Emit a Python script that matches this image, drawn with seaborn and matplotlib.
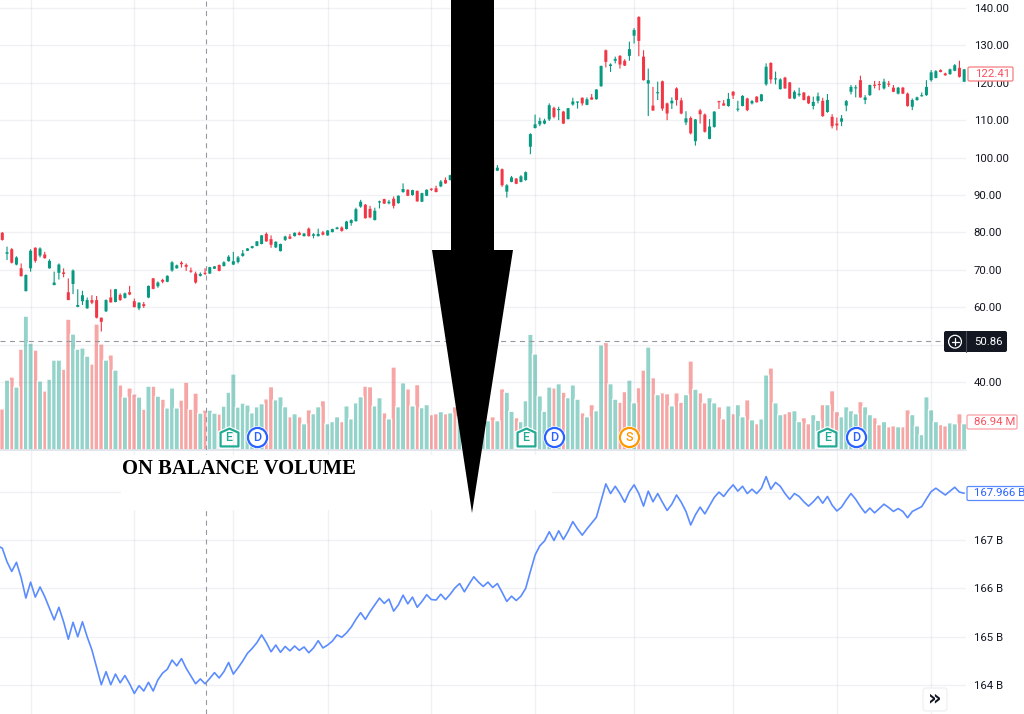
import matplotlib
matplotlib.use("Agg")
import matplotlib.pyplot as plt
from matplotlib.patches import Circle, FancyBboxPatch, Polygon, Rectangle
from matplotlib.path import Path as MplPath
import numpy as np
import pandas as pd
import seaborn as sns

# candles (the bars behind the arrow are guesses)
candle_open = [
    79.9, 74.3, 75.5, 71.4, 70.4, 64.3, 70.4, 75.9, 73.8, 74.1,
    70.4, 65.9, 69.2, 69.3, 64.0, 66.2, 60.1, 61.6, 59.7, 61.9,
    61.9, 57.2, 58.9, 62.6, 61.4, 63.3, 62.5, 64.0, 61.6, 59.7,
    60.8, 62.6, 67.7, 65.6, 67.3, 66.8, 69.8, 70.4, 71.9, 71.3,
    69.7, 69.0, 68.4, 69.2, 69.0, 70.3, 71.3, 71.0, 72.3, 71.4,
    72.1, 73.7, 75.1,
    75.8, 76.4, 76.9, 79.6, 78.2, 76.0, 75.0, 78.0, 78.9, 79.0,
    79.9, 79.0, 81.0, 79.1, 79.0, 80.0, 79.2, 80.1, 80.9, 81.3,
    80.9, 82.5, 83.0, 86.9, 87.4, 86.3, 83.3, 88.0, 88.9, 87.8,
    89.0, 87.8, 90.8, 91.4, 90.0, 91.1, 88.2, 89.8, 91.6, 91.8,
    92.3, 94.0, 94.0,
    96.2, 95.3, 96.5, 97.6, 97.0, 98.4, 97.7, 98.6, 99.4, 96.5,
    96.9, 90.9, 93.5, 94.4, 93.5, 94.0, 102.9, 107.9, 108.9, 109.1,
    110.2, 113.3, 112.7, 112.3, 110.3, 114.2, 114.7, 116.0, 114.1, 116.1,
    115.6, 119.1, 128.7, 124.5, 125.9, 127.2, 125.9, 127.2, 132.6, 137.6,
    127.0, 119.8, 113.9, 117.2, 120.4, 114.5, 114.5, 118.5, 115.3, 109.4,
    110.6, 104.4, 112.6, 111.5, 105.0, 108.2, 115.0, 114.5, 113.8, 117.6,
    112.8, 113.8, 115.8, 114.5, 116.3, 115.1, 119.6, 125.3, 120.9,
    118.3, 121.4, 120.1, 115.8, 116.7, 117.4, 116.4, 113.8, 115.2, 115.2,
    112.2, 110.9, 109.1, 109.6, 113.9, 117.6, 118.5, 120.7, 115.4, 116.7,
    119.5, 119.6, 118.5, 119.8, 118.7, 117.1, 118.7, 117.1, 113.6, 115.4,
    116.4, 116.7, 120.7, 121.3, 123.4, 122.5, 122.3, 123.2, 124.0, 120.3,
]
candle_close = [
    78.0, 74.7, 71.9, 73.3, 68.3, 68.6, 75.1, 72.4, 75.7, 73.1,
    72.4, 66.6, 71.4, 68.9, 61.9, 69.8, 60.6, 63.2, 61.9, 61.2,
    57.2, 56.1, 61.9, 61.3, 64.8, 61.9, 63.7, 63.4, 60.0, 61.2,
    60.3, 65.7, 64.9, 66.6, 66.8, 68.4, 72.0, 71.2, 71.5, 70.8,
    69.5, 66.6, 68.9, 68.9, 70.7, 70.9, 69.7, 72.0, 73.5, 72.3,
    73.3, 74.4, 75.7,
    76.3, 77.6, 79.2, 77.6, 76.7, 77.5, 76.9, 78.9, 78.3, 79.9,
    79.3, 79.7, 79.0, 79.5, 79.6, 79.4, 80.5, 80.9, 81.3, 80.4,
    82.9, 83.3, 86.2, 88.2, 83.8, 84.0, 85.8, 88.2, 87.7, 88.2,
    87.1, 89.8, 91.6, 89.8, 91.3, 88.3, 90.5, 91.4, 91.4, 90.8,
    93.6, 93.1, 95.3,
    95.2, 96.6, 97.4, 96.9, 98.2, 97.6, 99.0, 99.4, 96.3, 97.3,
    92.6, 92.6, 94.7, 93.0, 95.0, 96.1, 106.3, 108.9, 109.8, 109.9,
    114.0, 110.9, 113.0, 109.1, 113.2, 115.0, 114.9, 114.5, 115.6, 115.5,
    118.2, 124.5, 125.6, 124.9, 126.4, 124.9, 124.6, 129.0, 134.1, 131.2,
    120.7, 120.7, 112.6, 117.5, 113.1, 111.8, 115.2, 115.4, 111.8, 110.5,
    106.5, 110.2, 111.6, 106.9, 108.3, 112.3, 114.8, 113.9, 115.7, 116.6,
    113.1, 116.5, 112.7, 115.1, 114.8, 116.9, 124.3, 120.9, 121.2,
    120.9, 118.5, 115.8, 117.6, 117.1, 115.4, 114.5, 114.9, 116.4, 111.1,
    115.4, 108.4, 108.6, 110.5, 115.1, 118.9, 118.8, 116.1, 116.1, 119.4,
    119.2, 119.4, 120.3, 119.5, 117.6, 118.7, 117.1, 113.8, 115.4, 116.1,
    116.7, 118.9, 122.8, 123.1, 122.9, 122.0, 123.6, 124.7, 121.6, 123.6,
]
candle_high = [
    80.1, 76.2, 75.8, 73.6, 71.7, 68.8, 75.5, 76.0, 76.0, 74.8,
    72.8, 69.5, 71.7, 70.4, 67.7, 70.1, 64.8, 64.4, 62.6, 63.2,
    63.0, 57.2, 62.1, 64.8, 64.9, 63.7, 63.9, 65.7, 62.3, 61.3,
    61.4, 65.8, 67.8, 66.9, 67.6, 68.5, 72.3, 71.4, 72.3, 71.7,
    70.6, 69.5, 69.3, 70.4, 70.8, 71.0, 71.4, 72.3, 73.9, 74.8,
    73.7, 75.3, 75.8,
    76.4, 77.7, 79.3, 80.0, 79.2, 77.6, 77.0, 79.1, 79.6, 80.0,
    80.2, 79.8, 81.3, 79.8, 81.0, 80.4, 80.6, 81.0, 81.5, 81.6,
    83.1, 83.5, 86.6, 88.7, 87.6, 87.1, 86.6, 88.5, 89.0, 88.7,
    89.6, 89.9, 93.1, 91.5, 91.4, 91.2, 90.6, 91.5, 91.8, 92.5,
    94.0, 94.7, 95.4,
    96.5, 96.8, 97.6, 97.8, 98.4, 98.6, 99.2, 99.6, 99.6, 98.0,
    97.1, 92.9, 95.1, 94.5, 95.3, 96.3, 106.5, 111.5, 110.7, 110.4,
    114.5, 113.6, 113.6, 112.5, 113.3, 116.0, 115.0, 116.1, 116.1, 117.0,
    118.3, 124.6, 128.9, 125.2, 127.0, 127.4, 126.3, 131.0, 134.6, 137.8,
    128.7, 123.8, 118.9, 120.3, 120.6, 114.7, 116.1, 118.8, 116.0, 112.4,
    111.0, 110.3, 113.0, 111.8, 110.3, 112.4, 115.2, 115.4, 117.3, 117.8,
    115.2, 116.7, 116.0, 115.4, 116.4, 117.0, 125.2, 125.5, 123.0,
    121.2, 121.6, 120.2, 118.0, 118.7, 117.5, 116.6, 116.3, 117.4, 116.0,
    117.0, 111.6, 110.7, 111.4, 115.4, 119.4, 119.4, 121.9, 116.7, 119.5,
    120.5, 120.5, 121.1, 120.5, 119.4, 118.9, 118.9, 117.4, 115.8, 116.3,
    117.4, 120.7, 123.4, 123.4, 123.6, 122.7, 123.8, 125.0, 125.9, 123.7,
]
candle_low = [
    77.8, 72.6, 71.7, 71.2, 68.2, 64.2, 69.5, 71.9, 73.3, 73.0,
    70.3, 65.9, 67.4, 68.0, 61.9, 63.5, 60.0, 60.6, 59.6, 60.8,
    57.0, 53.5, 58.7, 61.2, 61.3, 61.7, 62.3, 63.2, 60.0, 59.2,
    59.8, 62.4, 64.8, 65.2, 66.4, 66.7, 69.5, 70.3, 70.6, 69.7,
    69.2, 66.3, 68.2, 68.6, 68.9, 70.2, 69.6, 70.9, 72.2, 71.3,
    71.7, 73.5, 75.0,
    75.7, 76.3, 76.8, 77.5, 75.9, 75.8, 74.9, 77.7, 78.2, 78.9,
    79.2, 78.9, 78.9, 78.4, 78.9, 79.2, 79.1, 80.0, 80.8, 80.2,
    80.8, 81.8, 82.9, 86.6, 83.7, 83.8, 83.2, 86.4, 87.6, 87.5,
    86.4, 87.7, 90.6, 89.7, 89.8, 88.2, 88.1, 89.7, 91.1, 90.7,
    92.1, 93.0, 93.9,
    95.0, 95.2, 96.3, 96.7, 96.9, 97.4, 97.5, 98.4, 96.2, 96.4,
    92.2, 89.3, 93.4, 92.9, 93.4, 93.8, 100.9, 107.8, 108.4, 108.9,
    109.8, 110.5, 110.0, 109.0, 110.2, 113.9, 113.1, 113.9, 114.0, 115.5,
    115.5, 118.9, 124.1, 122.9, 125.2, 123.8, 124.5, 125.9, 130.5, 127.1,
    120.6, 111.1, 112.5, 115.4, 112.5, 110.0, 113.0, 113.9, 111.6, 108.7,
    106.2, 103.2, 109.1, 106.7, 104.9, 108.0, 113.0, 113.9, 113.6, 115.7,
    112.3, 113.7, 112.4, 114.2, 114.7, 115.0, 119.2, 119.8, 119.6,
    118.2, 118.4, 115.7, 115.6, 116.3, 115.3, 114.3, 112.9, 114.5, 110.9,
    112.0, 107.8, 107.3, 108.4, 112.4, 116.9, 116.1, 116.0, 114.3, 116.5,
    118.5, 118.0, 118.2, 118.9, 117.5, 116.9, 117.0, 113.6, 112.7, 115.2,
    116.3, 116.5, 120.3, 121.2, 122.8, 121.9, 122.2, 123.1, 121.4, 120.2,
]
# volume in millions
volume_m = [
    136, 231, 241, 208, 333, 442, 353, 330, 228, 195,
    234, 297, 297, 267, 432, 383, 333, 337, 310, 284,
    416, 350, 297, 314, 264, 215, 175, 205, 185, 175,
    135, 211, 211, 178, 168, 139, 205, 139, 165, 224,
    135, 188, 122, 132, 132, 122, 119, 145, 191, 251,
    142, 155, 149,
    123, 143, 153, 169, 209, 166, 176, 143, 110, 120,
    110, 87, 133, 120, 143, 163, 87, 94, 110, 94,
    146, 103, 156, 176, 211, 209, 146, 173, 123, 103,
    274, 143, 222, 202, 146, 216, 140, 150, 117, 120,
    127, 120, 123,
    143, 110, 116, 105, 110, 94, 99, 97, 110, 97,
    202, 191, 128, 107, 94, 163, 382, 317, 179, 128,
    208, 205, 219, 191, 173, 215, 168, 123, 110, 150,
    130, 347, 355, 219, 168, 158, 193, 231, 156, 206,
    264, 340, 239, 183, 189, 186, 146, 189, 158, 183,
    294, 201, 189, 156, 173, 156, 143, 103, 146, 120,
    150, 110, 166, 100, 87, 103, 248, 271, 156, 117,
    120, 127, 130, 94, 107, 87, 117, 98, 150, 150,
    196, 127, 110, 143, 130, 120, 160, 143, 117, 107,
    84, 94, 77, 80, 77, 77, 133, 117, 80, 51,
    176, 133, 94, 84, 80, 90, 87, 120, 87,
]
# on balance volume in billions, first point sits just left of the first bar
obv_b = [
    166.88,
    166.83, 166.55, 166.35, 166.54, 166.22, 165.80, 166.13, 165.82, 166.03, 165.83,
    165.59, 165.35, 165.61, 165.31, 164.95, 165.30, 165.00, 165.31, 165.00, 164.73,
    164.37, 164.01, 164.28, 164.01, 164.23, 164.05, 164.20, 164.03, 163.83, 163.99,
    163.88, 164.06, 163.88, 164.11, 164.25, 164.33, 164.52, 164.40, 164.55, 164.35,
    164.19, 164.03, 164.13, 164.03, 164.14, 164.26, 164.15, 164.28, 164.47, 164.23,
    164.36, 164.50, 164.66, 164.76, 164.88, 165.04, 164.88, 164.69, 164.83, 164.68,
    164.80, 164.71, 164.81, 164.72, 164.79, 164.67, 164.77, 164.92, 164.77, 164.83,
    164.91, 165.04, 164.99, 165.08, 165.20, 165.36, 165.50, 165.36, 165.52, 165.66,
    165.80, 165.69, 165.78, 165.53, 165.66, 165.86, 165.68, 165.82, 165.61, 165.73,
    165.87, 165.77, 165.76, 165.88, 165.77, 165.88, 166.01, 166.10, 165.93, 166.09,
    166.24, 166.13, 166.04, 166.13, 166.02, 166.10, 165.92, 165.73, 165.84, 165.75,
    165.84, 166.00, 166.35, 166.69, 166.88, 166.98, 167.17, 166.99, 167.19, 167.01,
    167.18, 167.38, 167.23, 167.10, 167.23, 167.35, 167.47, 167.81, 168.16, 167.96,
    168.11, 167.96, 167.78, 168.00, 168.14, 167.96, 167.70, 168.01, 167.79, 167.96,
    167.78, 167.61, 167.74, 167.93, 167.78, 167.59, 167.31, 167.52, 167.68, 167.54,
    167.71, 167.88, 167.99, 167.90, 168.03, 168.14, 168.01, 168.11, 167.96, 168.05,
    167.96, 168.07, 168.31, 168.05, 168.19, 168.11, 167.96, 167.84, 167.96, 167.90,
    167.79, 167.70, 167.79, 167.90, 167.76, 167.90, 167.72, 167.60, 167.68, 167.83,
    167.96, 167.84, 167.69, 167.56, 167.66, 167.56, 167.65, 167.74, 167.67, 167.59,
    167.65, 167.59, 167.46, 167.59, 167.64, 167.69, 167.85, 168.00, 168.07, 168.00,
    167.93, 168.01, 168.09, 167.99, 167.966,
]

price_ticks = [40, 50, 60, 70, 80, 90, 100, 110, 120, 130, 140]
obv_ticks = [164, 165, 166, 167, 168]
grid_bars = [6, 28, 49, 69, 91, 113, 134, 155, 177, 197]
crosshair_bar = 43.2
crosshair_price = 50.86
event_bars = [48, 54, 111, 117, 133, 175, 181]
event_letters = ["E", "D", "E", "D", "S", "E", "D"]

GREEN = "#089981"
RED = "#f23645"
VOL_GREEN = "#93d3c9"
VOL_RED = "#f7a6a6"
BLUE = "#5b8cff"
INK = "#131722"
GRID = "#737f9e"
CROSS = "#9598a1"
EVENT_COLORS = {"E": "#22ab94", "D": "#2962ff", "S": "#ff9800"}
LABEL_SIZE = 8.2

sns.set_theme(style="white", rc={"font.family": "Roboto", "axes.linewidth": 0})

df = pd.DataFrame({
    "open": candle_open, "close": candle_close,
    "high": candle_high, "low": candle_low, "volume": volume_m,
})
df["bar"] = np.arange(len(df))
df["side"] = np.where(df["close"] >= df["open"], "up", "down")
obv_df = pd.DataFrame({"bar": np.arange(len(obv_b)) - 1, "obv": obv_b})

fig = plt.figure(figsize=(10.24, 7.14), dpi=100)
W, H = 1024.0, 714.0
PANEL_R = 966.0
SPLIT = 450.0
rect_top = [0, 1 - SPLIT / H, PANEL_R / W, SPLIT / H]
rect_low = [0, 0, PANEL_R / W, (H - SPLIT - 1) / H]

# volume goes underneath, candles on a see-through axes above it
ax_vol = fig.add_axes(rect_top, zorder=0)
ax_price = fig.add_axes(rect_top, zorder=1, facecolor="none")
ax_obv = fig.add_axes(rect_low, zorder=1)

xlim = (-0.488, 204.39)

sns.barplot(data=df, x="bar", y="volume", hue="side", ax=ax_vol, native_scale=True,
            palette={"up": VOL_GREEN, "down": VOL_RED}, saturation=1, width=1.12,
            dodge=False, legend=False)
# no pixel snapping, otherwise the narrow bars come out uneven
for p in ax_vol.patches:
    p.set_snap(False)
ax_vol.set_xlim(xlim)
ax_vol.set_ylim(0, 1485)
ax_vol.set_xticks([])
ax_vol.set_yticks([])
ax_vol.set_xlabel("")
ax_vol.set_ylabel("")
ax_vol.axhline(0, color="#dfe2ea", lw=1.2, clip_on=False)

colors = df["side"].map({"up": GREEN, "down": RED})
wicks = ax_price.vlines(df["bar"], df["low"], df["high"], colors=colors, lw=0.8)
wicks.set_snap(False)
body_low = df[["open", "close"]].min(axis=1)
body_h = (df["open"] - df["close"]).abs().clip(lower=0.3)
bodies = ax_price.bar(df["bar"], body_h, bottom=body_low, width=0.64, color=colors, lw=0)
for p in bodies:
    p.set_snap(False)
ax_price.set_xlim(xlim)
ax_price.set_ylim(142.14 - SPLIT / 3.74, 142.14)
ax_price.set_xticks(grid_bars)
ax_price.set_yticks(price_ticks)
ax_price.set_yticklabels(["" if p == 50 else f"{p:.2f}" for p in price_ticks])
ax_price.yaxis.tick_right()
ax_price.tick_params(axis="y", length=0, pad=5.5, labelsize=LABEL_SIZE, labelcolor=INK)
ax_price.tick_params(axis="x", length=0, labelbottom=False)
ax_price.grid(True, color=GRID, alpha=0.1, lw=1)
ax_price.axvline(crosshair_bar, color=CROSS, lw=0.8, ls=(0, (4.5, 4)))
ax_price.axhline(crosshair_price, color=CROSS, lw=0.8, ls=(0, (4.5, 4)))

sns.lineplot(data=obv_df, x="bar", y="obv", ax=ax_obv, color=BLUE, lw=1.2)
ax_obv.set_xlim(xlim)
ax_obv.set_ylim(167 - (714 - 540) / 48.4, 167 + (540 - SPLIT - 1) / 48.4)
ax_obv.set_xticks(grid_bars)
ax_obv.set_yticks(obv_ticks)
ax_obv.set_yticklabels(["" if b == 168 else f"{b} B" for b in obv_ticks])
ax_obv.yaxis.tick_right()
ax_obv.tick_params(axis="y", length=0, pad=5.5, labelsize=LABEL_SIZE, labelcolor=INK)
ax_obv.tick_params(axis="x", length=0, labelbottom=False)
ax_obv.set_xlabel("")
ax_obv.set_ylabel("")
ax_obv.grid(True, color=GRID, alpha=0.1, lw=1)
ax_obv.axvline(crosshair_bar, color=CROSS, lw=0.8, ls=(0, (4.5, 4)))

# earnings / dividend / split flags sitting on the volume bars
house = MplPath([(-1, -1), (1, -1), (1, 0.55), (0, 1), (-1, 0.55), (-1, -1)], closed=True)
for bar, letter in zip(event_bars, event_letters):
    c = EVENT_COLORS[letter]
    marker = house if letter == "E" else "o"
    ax_vol.scatter([bar], [43], s=270, marker=marker, color="white", lw=0, zorder=5)
    ax_vol.scatter([bar], [43], s=165 if letter == "E" else 190, marker=marker,
                   facecolor="white", edgecolor=c, lw=1.6, zorder=6)
    ax_vol.text(bar, 40, letter, color=c, fontsize=9, ha="center", va="center",
                fontweight="medium", zorder=7)

# overlay in pixel coordinates for the pasted arrow, title patch and price tags
ov = fig.add_axes([0, 0, 1, 1], zorder=5, facecolor="none")
ov.set_xlim(0, W)
ov.set_ylim(H, 0)
ov.axis("off")


def tag(x0, y0, x1, y1, text, color, edge=None):
    ov.add_patch(FancyBboxPatch((x0 + 1, y0 + 1), x1 - x0 - 2, y1 - y0 - 2,
                                boxstyle="round,pad=0,rounding_size=1.5", mutation_scale=1,
                                fc="white", ec=edge or color, lw=0.9))
    ov.text(x0 + 8, (y0 + y1) / 2, text, color=color, fontsize=LABEL_SIZE,
            ha="left", va="center")


ov.add_patch(Rectangle((121, 455), 431, 55, fc="white", ec="none"))
ov.text(122, 469.5, "ON BALANCE VOLUME", family="Liberation Serif", fontweight="bold",
        fontsize=14.85, color="black", ha="left", va="center")

tag(967, 66, 1014, 82, "122.41", "#f7525f", edge="#f77c80")
tag(966, 414, 1018, 430, "86.94 M", "#f7525f", edge="#f9a0a4")
tag(966, 485.5, 1030, 501.5, "167.966 B", "#2962ff", edge="#5b8cff")

# crosshair price label
ov.add_patch(FancyBboxPatch((944, 331), 63, 21, boxstyle="round,pad=0,rounding_size=2",
                            mutation_scale=1, fc=INK, ec="none"))
ov.plot([965.5, 965.5], [331, 352], color="#4a4e59", lw=0.8)
ov.text(974, 341.8, f"{crosshair_price:.2f}", color="white", fontsize=LABEL_SIZE, ha="left", va="center")
ov.add_patch(Circle((955, 341.7), 6.4, fc="none", ec="white", lw=0.9))
ov.plot([951.5, 958.5], [341.7, 341.7], color="white", lw=0.9)
ov.plot([955, 955], [338.2, 345.2], color="white", lw=0.9)

# scroll button
ov.add_patch(FancyBboxPatch((923, 688), 24, 23, boxstyle="round,pad=0,rounding_size=3",
                            mutation_scale=1, fc="white", ec="#f0f1f4", lw=1))
ov.text(935, 698, "\u00bb", color=INK, fontsize=15, ha="center", va="center",
        family="DejaVu Sans", fontweight="bold")

# the big black arrow pasted over the chart
ov.add_patch(Polygon([(451, 0), (494, 0), (494, 250), (513, 250), (472, 513), (432, 250), (451, 250)],
                     closed=True, fc="black", ec="none"))

fig.savefig("out.png", dpi=100)
